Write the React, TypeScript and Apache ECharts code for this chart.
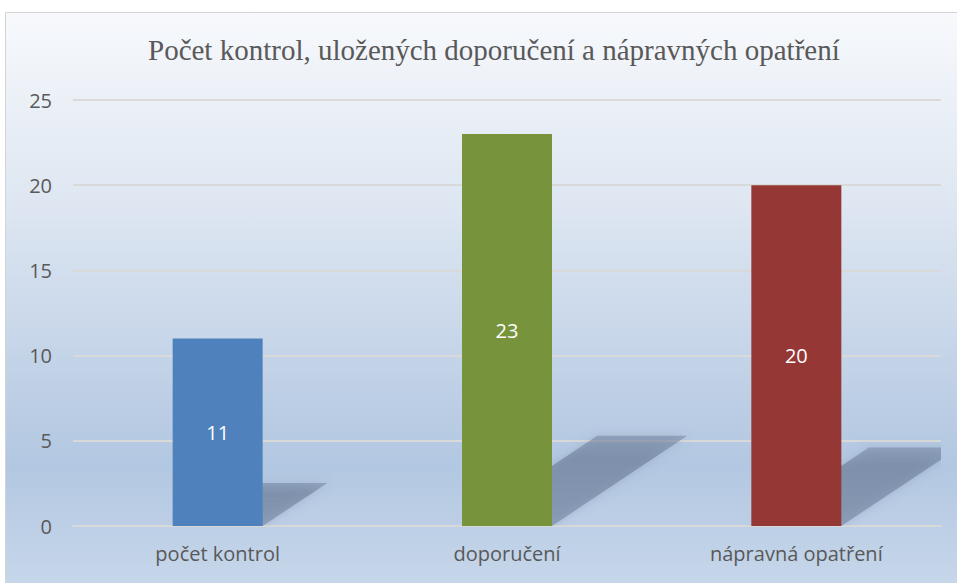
import React, { useEffect, useRef } from "react";
import * as echarts from "echarts";

const categories = ["počet kontrol", "doporučení", "nápravná opatření"];
const values = [11, 23, 20];
const barColors = ["#4f81bd", "#77933c", "#953735"];
const yTicks = [0, 5, 10, 15, 20, 25];
const titleText = "Počet kontrol, uložených doporučení a nápravných opatření";

export default function App() {
  const ref = useRef<HTMLDivElement>(null);
  useEffect(() => {
    const chart = echarts.init(ref.current!, null, { renderer: "svg" });
    const sans = "'Open Sans', 'Noto Sans', sans-serif";
    chart.setOption({
      animation: false,
      graphic: [
        {
          type: "rect",
          z: -10,
          shape: { x: 5.5, y: 12.5, width: 960, height: 580 },
          style: {
            fill: {
              type: "linear",
              x: 0, y: 0, x2: 0, y2: 1,
              colorStops: [
                { offset: 0, color: "#f7f9fc" },
                { offset: 0.35, color: "#dce5f1" },
                { offset: 0.78, color: "#b2c7e1" },
                { offset: 1, color: "#c8d8eb" },
              ],
            },
            stroke: "#d4d4d4",
            lineWidth: 1,
          },
        },
      ],
      title: {
        text: titleText,
        left: 143,
        top: 30,
        textStyle: {
          fontFamily: "'Liberation Serif', 'Times New Roman', serif",
          fontSize: 29,
          fontWeight: "normal",
          color: "#595959",
        },
      },
      grid: { left: 73, right: 16, top: 100, bottom: 57, containLabel: false },
      xAxis: {
        type: "category",
        data: categories,
        axisLine: { show: true, lineStyle: { color: "#d9d9d9", width: 2 } },
        axisTick: { show: false },
        axisLabel: { color: "#595959", fontFamily: sans, fontSize: 20, margin: 17 },
      },
      yAxis: {
        type: "value",
        min: yTicks[0],
        max: yTicks[yTicks.length - 1],
        interval: 5,
        axisLine: { show: false },
        axisTick: { show: false },
        splitLine: { lineStyle: { color: "#d9d9d9", width: 2 } },
        axisLabel: { color: "#595959", fontFamily: sans, fontSize: 20, margin: 21 },
      },
      series: [
        {
          type: "custom",
          z: 1,
          silent: true,
          clip: true,
          data: values.map((v, i) => [i, v]),
          renderItem: (params: any, api: any) => {
            const idx = api.value(0);
            const v = api.value(1);
            const base = api.coord([idx, 0]);
            const top = api.coord([idx, v]);
            const bw = 90;
            const x0 = base[0] - bw / 2;
            const x1 = base[0] + bw / 2;
            const h = (base[1] - top[1]) * 0.23;
            const dx = h * 1.5;
            return {
              type: "polygon",
              shape: {
                points: [
                  [x0, base[1]],
                  [x1, base[1]],
                  [x1 + dx, base[1] - h],
                  [x0 + dx, base[1] - h],
                ],
              },
              style: {
                fill: {
                  type: "linear",
                  x: 0, y: 0, x2: 0, y2: 1,
                  colorStops: [
                    { offset: 0, color: "rgba(105,122,150,0.45)" },
                    { offset: 0.25, color: "rgba(105,122,150,0.6)" },
                    { offset: 1, color: "rgba(105,122,150,0.5)" },
                  ],
                },
                shadowBlur: 10,
                shadowColor: "rgba(105,122,150,0.5)",
              },
            };
          },
        },
        {
          type: "bar",
          z: 2,
          barWidth: 90,
          data: values.map((v, i) => ({ value: v, itemStyle: { color: barColors[i] } })),
          label: {
            show: true,
            position: "inside",
            color: "#ffffff",
            fontFamily: sans,
            fontSize: 20,
          },
        },
      ],
    });
    return () => chart.dispose();
  }, []);
  return (
    <div
      ref={ref}
      style={{ position: "absolute", left: 0, top: 0, width: 957, height: 583 }}
    />
  );
}
